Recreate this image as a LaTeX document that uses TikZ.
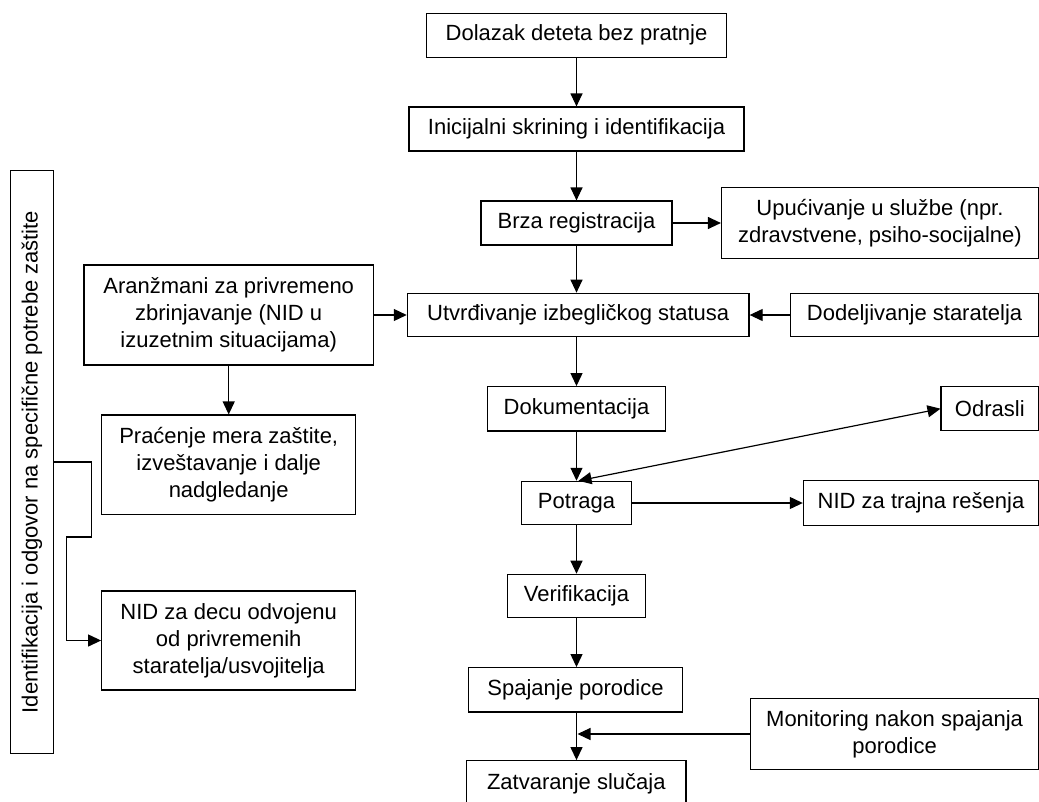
\documentclass[tikz,border=0pt]{standalone}
\usepackage{fontspec}
\setmainfont{Liberation Sans}
\usetikzlibrary{arrows.meta}
\begin{document}
\begin{tikzpicture}[x=1pt,y=-1pt,
  box/.style={draw=black, line width=1.2pt, rectangle, inner sep=0pt, align=center,
    font=\fontsize{22}{27}\selectfont},
  conn/.style={line width=1.2pt, -{Triangle[length=13pt,width=12pt]}},
  biconn/.style={line width=1.2pt, {Triangle[length=13pt,width=12pt]}-{Triangle[length=13pt,width=12pt]}}]
\useasboundingbox (0,0) rectangle (1039,801);
\fill[white] (0,0) rectangle (1039,801);

% spine
\node[box, minimum width=300.7pt, minimum height=44pt] (dolazak) at (576.5,35.3) {Dolazak deteta bez pratnje};
\node[box, minimum width=335pt, minimum height=44pt] (inic) at (576.5,129) {Inicijalni skrining i identifikacija};
\node[box, minimum width=191pt, minimum height=44pt] (brza) at (576.5,223) {Brza registracija};
\node[box, minimum width=341.7pt, minimum height=43.5pt] (utvr) at (578.2,315) {Utvrđivanje izbegličkog statusa};
\node[box, minimum width=178.6pt, minimum height=44.3pt] (dokum) at (576.5,408.8) {Dokumentacija};
\node[box, minimum width=110.7pt, minimum height=43.3pt] (potraga) at (576.5,503) {Potraga};
\node[box, minimum width=138.3pt, minimum height=43.4pt] (verif) at (576.5,596) {Verifikacija};
\node[box, minimum width=213.6pt, minimum height=44.3pt] (spajanje) at (575.5,689.8) {Spajanje porodice};
\node[box, minimum width=219.5pt, minimum height=46pt] (zatvaranje) at (576.3,783.7) {Zatvaranje slučaja};

% right side
\node[box, minimum width=317pt, minimum height=71pt] (upuc) at (880,223) {Upućivanje u službe (npr.\\zdravstvene, psiho-socijalne)};
\node[box, minimum width=247.8pt, minimum height=43.5pt] (dodel) at (914.6,315) {Dodeljivanje staratelja};
\node[box, minimum width=97.5pt, minimum height=44pt] (odrasli) at (989.8,408.7) {Odrasli};
\node[box, minimum width=235.2pt, minimum height=44.3pt] (nidtrajna) at (921,503) {NID za trajna rešenja};
\node[box, minimum width=287.8pt, minimum height=71.2pt] (monitoring) at (894.6,734) {Monitoring nakon spajanja\\porodice};

% left side
\node[box, minimum width=289.3pt, minimum height=100pt] (aran) at (228.7,315) {Aranžmani za privremeno\\zbrinjavanje (NID u\\izuzetnim situacijama)};
\node[box, minimum width=254pt, minimum height=99.3pt] (pracenje) at (228.7,464.7) {Praćenje mera zaštite,\\izveštavanje i dalje\\nadgledanje};
\node[box, minimum width=254pt, minimum height=99pt] (niddecu) at (228.7,640.5) {NID za decu odvojenu\\od privremenih\\staratelja/usvojitelja};
\node[box, rotate=90, minimum width=582.6pt, minimum height=42.6pt] (leftbox) at (32,462) {Identifikacija i odgovor na specifične potrebe zaštite};

\coordinate (monend) at (577.5,734);

% connectors
\draw[conn] (dolazak.south) -- (dolazak.south |- inic.north);
\draw[conn] (inic.south) -- (inic.south |- brza.north);
\draw[conn] (brza.east) -- (brza.east -| upuc.west);
\draw[conn] (brza.south) -- (brza.south |- utvr.north);
\draw[conn] (aran.east) -- (aran.east -| utvr.west);
\draw[conn] (dodel.west) -- (dodel.west -| utvr.east);
\draw[conn] (dokum.south |- utvr.south) -- (dokum.north);
\draw[conn] (aran.south) -- (aran.south |- pracenje.north);
\draw[conn] (dokum.south) -- (dokum.south |- potraga.north);
\draw[biconn] ([xshift=2pt]potraga.north) -- (odrasli.west);
\draw[conn] (potraga.east) -- (potraga.east -| nidtrajna.west);
\draw[conn] (potraga.south) -- (potraga.south |- verif.north);
\draw[conn] (verif.south) -- (verif.south |- spajanje.north);
\draw[conn] (potraga.south |- spajanje.south) -- (potraga.south |- zatvaranje.north);
\draw[conn] (monitoring.west) -- (monend);
\draw[conn] (leftbox.south) -- ++(37.4,0) -- ++(0,75) -- ++(-25,0) |- (niddecu.west);
\end{tikzpicture}
\end{document}
